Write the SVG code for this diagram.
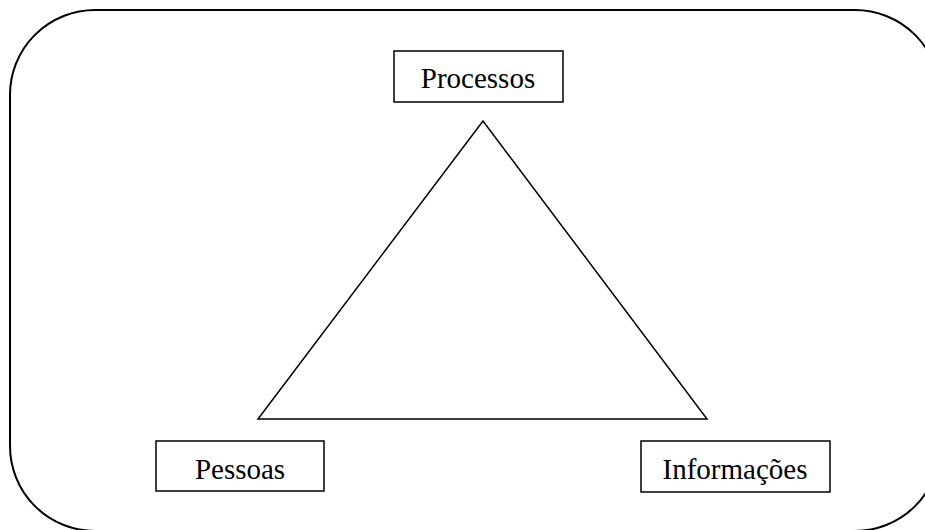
<svg xmlns="http://www.w3.org/2000/svg" width="925" height="530" viewBox="0 0 925 530">
<style>
.box{fill:#fff;stroke:#000;stroke-width:1.5}
.lbl{font-family:"Liberation Serif","Times New Roman",serif;font-size:29px;fill:#000;text-anchor:middle}
.line{fill:none;stroke:#000;stroke-width:1.5}
</style>
<rect x="0" y="0" width="925" height="530" fill="#fff"/>
<rect x="10" y="10" width="930" height="521" rx="85" ry="85" fill="none" stroke="#000" stroke-width="2"/>
<g id="connectors">
<polygon class="line" points="483,121 258,419 707,419"/>
</g>
<g id="processos">
<rect class="box" x="394" y="51" width="169" height="51"/>
<text class="lbl" x="478" y="88">Processos</text>
</g>
<g id="pessoas">
<rect class="box" x="156" y="441" width="168" height="50"/>
<text class="lbl" x="240" y="479">Pessoas</text>
</g>
<g id="informacoes">
<rect class="box" x="641" y="441" width="189" height="51"/>
<text class="lbl" x="735" y="479">Informações</text>
</g>
</svg>
